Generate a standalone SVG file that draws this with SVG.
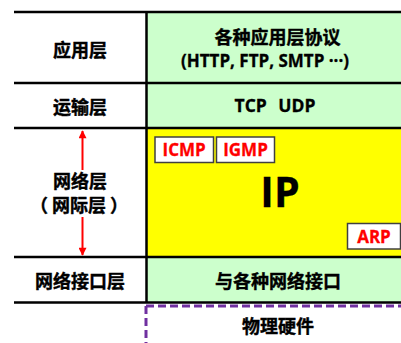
<svg xmlns="http://www.w3.org/2000/svg" width="401" height="343" viewBox="0 0 401 343">
<defs>
<style>
.cjk{font-family:"Noto Sans CJK SC","Microsoft YaHei",sans-serif;font-weight:bold;font-size:18px;fill:#000;stroke:#000;stroke-width:0.4;text-anchor:middle}
.lat{font-family:"Open Sans","Noto Sans CJK SC",sans-serif;font-weight:bold;fill:#000;stroke:#000;stroke-width:0.3;text-anchor:middle}
.red{font-family:"Open Sans","Noto Sans CJK SC",sans-serif;font-weight:bold;font-size:17px;fill:#FF0000;stroke:#FF0000;stroke-width:0.3;text-anchor:middle}
.green{fill:#CCFFCC}
.yellow{fill:#FFFF00}
.line{stroke:#000;stroke-width:2.5;fill:none}
.sub{fill:#fff;stroke:#404040;stroke-width:1.5}
.arrow{stroke:#FF0000;stroke-width:2;fill:none}
</style>
<marker id="ah" viewBox="0 0 10 10" refX="9" refY="5" markerWidth="4.5" markerHeight="4" orient="auto-start-reverse" markerUnits="strokeWidth">
<path d="M0,0 L10,5 L0,10 z" fill="#FF0000"/>
</marker>
</defs>
<rect width="401" height="343" fill="#fff"/>
<g id="app-layer">
<rect class="green" x="147" y="12" width="260" height="71"/>
<text class="cjk" x="80" y="57">应用层</text>
<text class="cjk" x="277.5" y="44">各种应用层协议</text>
<text class="lat" x="265" y="67" font-size="17">(HTTP, FTP, SMTP ···)</text>
</g>
<g id="transport-layer">
<rect class="green" x="147" y="83" width="260" height="45"/>
<text class="cjk" x="80" y="114">运输层</text>
<text class="lat" x="275" y="112" font-size="17.5" word-spacing="7">TCP UDP</text>
</g>
<g id="network-layer">
<rect class="yellow" x="147" y="128" width="260" height="129"/>
<text class="cjk" x="80" y="188">网络层</text>
<text class="cjk" x="79" y="212">（ 网际层 ）</text>
<text class="lat" x="280" y="206.5" font-size="41">IP</text>
</g>
<g id="icmp">
<rect class="sub" x="155" y="137" width="58.5" height="25.5"/>
<text class="red" x="184.2" y="156">ICMP</text>
</g>
<g id="igmp">
<rect class="sub" x="216.5" y="137" width="58" height="25.5"/>
<text class="red" x="245.5" y="156">IGMP</text>
</g>
<g id="arp">
<rect class="sub" x="347.5" y="223.5" width="53" height="25.5"/>
<text class="red" x="374" y="242.5">ARP</text>
</g>
<g id="link-layer">
<rect class="green" x="147" y="257" width="260" height="45.5"/>
<text class="cjk" x="80" y="288">网络接口层</text>
<text class="cjk" x="278" y="288">与各种网络接口</text>
</g>
<g id="hardware">
<path d="M146,306 H401 M146,306 V343" stroke="#7030A0" stroke-width="3" stroke-dasharray="8,4" fill="none"/>
<text class="cjk" x="278" y="333">物理硬件</text>
</g>
<g id="connectors">
<path class="line" d="M14,12 H401 M14,83 H401 M14,128 H401 M14,257 H401 M14,302.5 H401 M146.5,11 V303.5"/>
<path class="arrow" d="M82.5,170 V131" marker-end="url(#ah)"/>
<path class="arrow" d="M82.5,217 V255" marker-end="url(#ah)"/>
</g>
</svg>
